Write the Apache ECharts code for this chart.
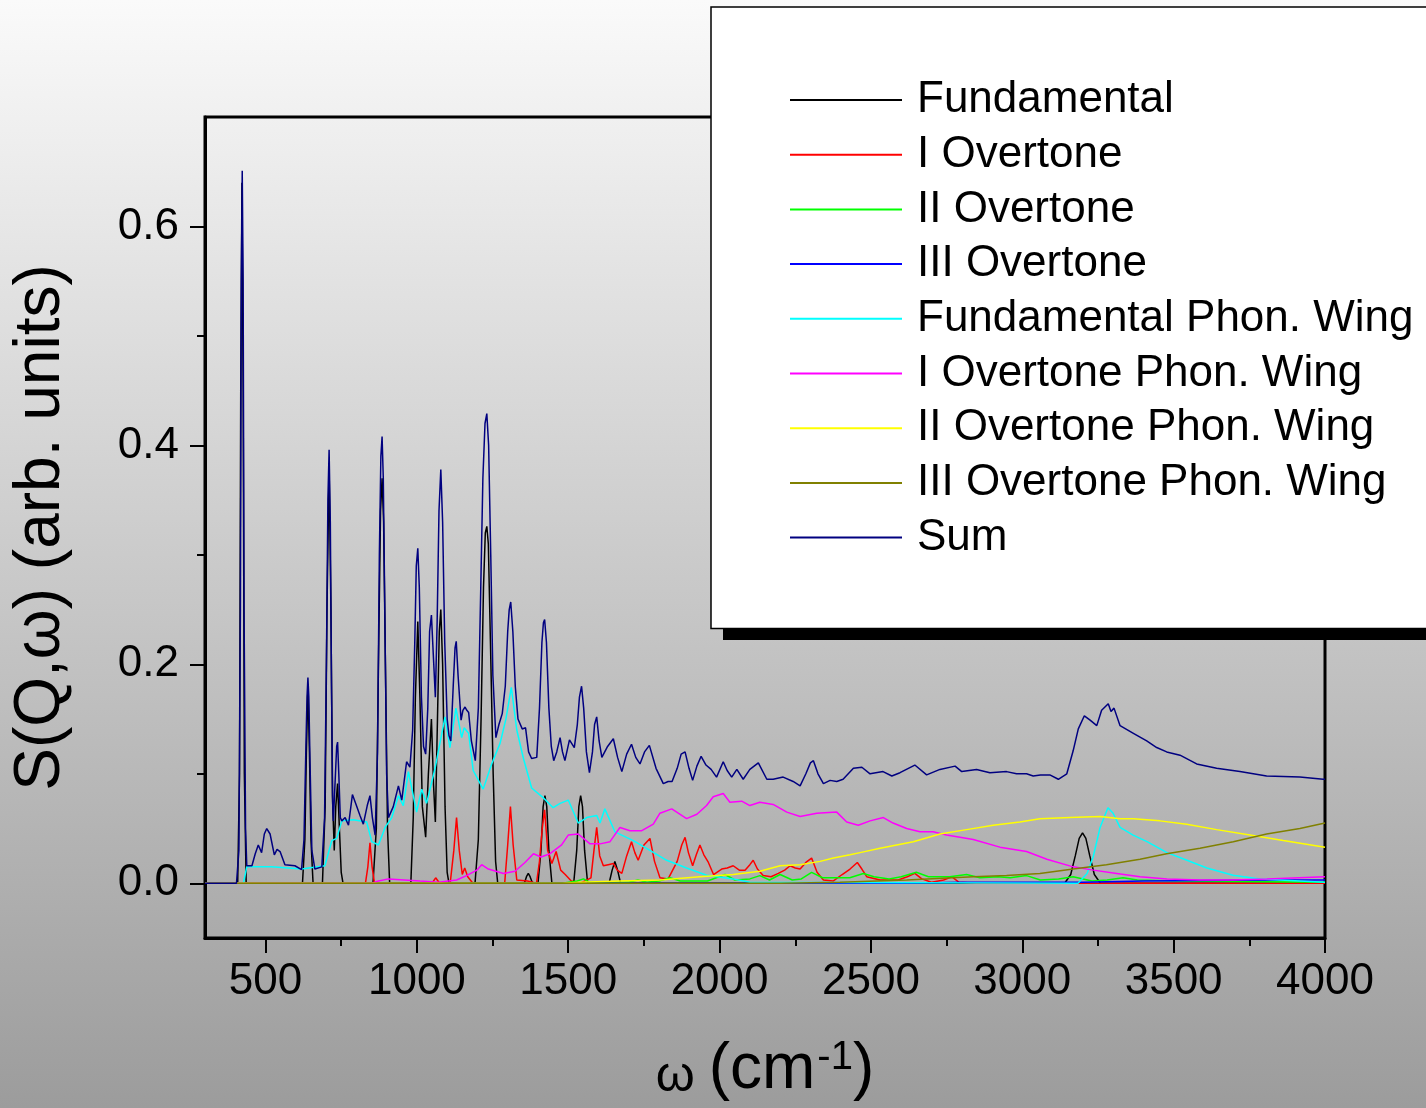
<!DOCTYPE html>
<html>
<head>
<meta charset="utf-8">
<script src="https://cdn.jsdelivr.net/npm/echarts@6/dist/echarts.min.js"></script>
<style>
  html, body { margin: 0; padding: 0; }
  #chart { width: 1426px; height: 1108px; }
</style>
</head>
<body>
<div id="chart"></div>
<script>
'use strict';

// wavenumber (cm-1), S(Q,w) pairs
const fundamental = [
  [300, 0], [408, 0], [414, 0.1], [418, 0.45], [422, 0.64], [426, 0.45], [430, 0.1], [436, 0],
  [622, 0], [630, 0.04], [635, 0.12], [640, 0.18], [645, 0.12], [650, 0.04], [657, 0],
  [688, 0], [697, 0.07], [703, 0.25], [710, 0.38], [716, 0.25], [721, 0.08], [727, 0.03],
  [732, 0.07], [738, 0.091], [744, 0.05], [750, 0.01], [756, 0],
  [855, 0], [866, 0.05], [874, 0.22], [880, 0.34], [885, 0.37], [890, 0.33], [896, 0.2], [903, 0.05], [910, 0],
  [980, 0], [988, 0.06], [995, 0.17], [1003, 0.239], [1010, 0.17], [1018, 0.07], [1029, 0.042],
  [1038, 0.1], [1048, 0.15], [1055, 0.09], [1061, 0.056], [1068, 0.15], [1074, 0.23], [1079, 0.25],
  [1085, 0.2], [1093, 0.07], [1100, 0.01], [1106, 0],
  [1192, 0], [1203, 0.04], [1212, 0.15], [1220, 0.27], [1226, 0.32], [1231, 0.326], [1236, 0.31],
  [1243, 0.22], [1252, 0.1], [1260, 0.02], [1267, 0],
  [1355, 0], [1362, 0.006], [1368, 0.009], [1374, 0.006], [1382, 0],
  [1400, 0], [1410, 0.03], [1417, 0.07], [1423, 0.08], [1429, 0.07], [1436, 0.03], [1446, 0],
  [1518, 0], [1528, 0.03], [1535, 0.07], [1541, 0.08], [1547, 0.07], [1554, 0.03], [1564, 0],
  [1635, 0], [1645, 0.012], [1654, 0.02], [1663, 0.012], [1673, 0],
  [3140, 0], [3160, 0.008], [3175, 0.025], [3188, 0.041], [3199, 0.046], [3210, 0.041],
  [3223, 0.025], [3238, 0.008], [3258, 0], [4000, 0]
];

const overtone1 = [
  [300, 0], [830, 0], [838, 0.015], [845, 0.037], [852, 0.015], [860, 0],
  [1050, 0], [1062, 0.005], [1075, 0], [1110, 0], [1122, 0.03], [1131, 0.06], [1140, 0.03],
  [1150, 0.008], [1158, 0.014], [1168, 0.006], [1185, 0],
  [1290, 0], [1300, 0.035], [1309, 0.07], [1318, 0.035], [1330, 0.003], [1365, 0.002], [1395, 0],
  [1405, 0.02], [1414, 0.05], [1422, 0.067], [1432, 0.03], [1446, 0.018], [1460, 0.029],
  [1475, 0.012], [1490, 0.008], [1510, 0.002], [1540, 0],
  [1575, 0.005], [1585, 0.03], [1594, 0.051], [1604, 0.025], [1616, 0.016], [1632, 0.017],
  [1649, 0.018], [1662, 0.012], [1677, 0.009], [1693, 0.025], [1709, 0.038], [1720, 0.028],
  [1731, 0.021], [1750, 0.035], [1770, 0.041], [1785, 0.02], [1803, 0.005], [1830, 0.004],
  [1860, 0.02], [1875, 0.035], [1886, 0.042], [1897, 0.028], [1911, 0.016], [1923, 0.026],
  [1935, 0.035], [1948, 0.026], [1963, 0.019], [1980, 0.008], [2007, 0.013], [2025, 0.014],
  [2045, 0.016], [2065, 0.012], [2084, 0.012], [2100, 0.017], [2111, 0.021], [2125, 0.013],
  [2144, 0.007], [2170, 0.006], [2194, 0.009], [2215, 0.012], [2233, 0.016], [2250, 0.014],
  [2266, 0.013], [2285, 0.019], [2304, 0.023], [2322, 0.01], [2343, 0.003], [2375, 0.002],
  [2405, 0.008], [2431, 0.013], [2455, 0.019], [2470, 0.013], [2486, 0.006], [2530, 0.003],
  [2590, 0.003], [2620, 0.006], [2645, 0.009], [2668, 0.004], [2700, 0.001],
  [2740, 0.003], [2767, 0.006], [2790, 0.001], [2850, 0], [4000, 0]
];

const overtone2 = [
  [300, 0], [1480, 0], [1530, 0.002], [1550, 0.004], [1570, 0.001], [1700, 0.001],
  [1730, 0.003], [1760, 0.001], [1800, 0.002], [1836, 0.005], [1870, 0.002], [1960, 0.002],
  [2018, 0.008], [2050, 0.003], [2100, 0.004], [2133, 0.007], [2165, 0.003], [2200, 0.008],
  [2240, 0.003], [2270, 0.004], [2304, 0.01], [2340, 0.005], [2400, 0.005], [2430, 0.005],
  [2475, 0.009], [2510, 0.006], [2560, 0.004], [2600, 0.006], [2650, 0.01], [2690, 0.006],
  [2760, 0.006], [2816, 0.008], [2860, 0.005], [2920, 0.006], [2960, 0.005], [3014, 0.007],
  [3060, 0.003], [3120, 0.004], [3168, 0.006], [3230, 0.002], [3280, 0.003], [3333, 0.005],
  [3380, 0.003], [3500, 0.002], [4000, 0.001]
];

const overtone3 = [
  [300, 0], [2600, 0], [2800, 0.001], [3200, 0.001], [3400, 0.002], [3800, 0.003], [4000, 0.003]
];

const fundWing = [
  [300, 0], [427, 0], [438, 0.015], [520, 0.015], [619, 0.013], [696, 0.016], [719, 0.039],
  [735, 0.041], [752, 0.057], [790, 0.058], [834, 0.056], [851, 0.038], [873, 0.035],
  [895, 0.051], [917, 0.06], [939, 0.08], [955, 0.071], [972, 0.102], [999, 0.065],
  [1016, 0.086], [1032, 0.073], [1060, 0.105], [1093, 0.152], [1109, 0.124], [1129, 0.16],
  [1148, 0.133], [1156, 0.142], [1171, 0.137], [1186, 0.103], [1219, 0.086], [1247, 0.109],
  [1275, 0.128], [1294, 0.15], [1312, 0.179], [1330, 0.14], [1352, 0.114], [1379, 0.087],
  [1418, 0.078], [1450, 0.069], [1473, 0.073], [1500, 0.076], [1533, 0.055], [1561, 0.06],
  [1594, 0.062], [1605, 0.055], [1621, 0.068], [1654, 0.047], [1715, 0.039], [1770, 0.03],
  [1825, 0.021], [1891, 0.014], [1957, 0.0073], [2044, 0.004], [2100, 0.001], [3184, 0],
  [3214, 0.009], [3234, 0.024], [3257, 0.051], [3283, 0.069], [3300, 0.064], [3323, 0.051],
  [3366, 0.044], [3412, 0.038], [3478, 0.028], [3544, 0.021], [3610, 0.014], [3696, 0.0073],
  [3785, 0.004], [4000, 0.001]
];

const overtone1Wing = [
  [300, 0], [851, 0], [873, 0.002], [906, 0.004], [1010, 0.002], [1071, 0.001], [1131, 0.003],
  [1164, 0.007], [1198, 0.012], [1214, 0.017], [1236, 0.013], [1286, 0.009], [1324, 0.011],
  [1357, 0.019], [1385, 0.027], [1410, 0.024], [1440, 0.027], [1478, 0.035], [1500, 0.044],
  [1533, 0.045], [1572, 0.036], [1605, 0.036], [1638, 0.038], [1671, 0.051], [1704, 0.048],
  [1743, 0.048], [1781, 0.054], [1803, 0.064], [1842, 0.068], [1891, 0.059], [1925, 0.063],
  [1957, 0.071], [1979, 0.079], [2012, 0.082], [2034, 0.074], [2073, 0.075], [2100, 0.071],
  [2133, 0.074], [2177, 0.072], [2222, 0.065], [2266, 0.061], [2321, 0.064], [2387, 0.065],
  [2420, 0.056], [2458, 0.053], [2497, 0.057], [2541, 0.06], [2573, 0.055], [2618, 0.05],
  [2662, 0.047], [2705, 0.047], [2750, 0.044], [2794, 0.042], [2838, 0.04], [2926, 0.033],
  [3014, 0.029], [3081, 0.022], [3168, 0.015], [3235, 0.012], [3312, 0.009], [3389, 0.006],
  [3478, 0.004], [3587, 0.003], [3696, 0.003], [3808, 0.004], [4000, 0.006]
];

const overtone2Wing = [
  [300, 0], [1480, 0], [1539, 0.001], [1671, 0.002], [1803, 0.003], [1935, 0.006],
  [2045, 0.008], [2133, 0.011], [2200, 0.016], [2266, 0.017], [2332, 0.02], [2376, 0.023],
  [2431, 0.026], [2464, 0.028], [2530, 0.032], [2640, 0.038], [2728, 0.045], [2816, 0.049],
  [2904, 0.053], [2992, 0.056], [3058, 0.059], [3157, 0.06], [3257, 0.061], [3323, 0.059],
  [3367, 0.059], [3455, 0.057], [3543, 0.054], [3642, 0.049], [3752, 0.044], [3862, 0.039],
  [4000, 0.033]
];

const overtone3Wing = [
  [300, 0], [2200, 0], [2398, 0.001], [2618, 0.003], [2838, 0.006], [2948, 0.007],
  [3058, 0.009], [3168, 0.013], [3278, 0.017], [3389, 0.022], [3477, 0.027], [3587, 0.032],
  [3697, 0.038], [3807, 0.045], [3917, 0.05], [4000, 0.055]
];

const sum = [
  [300, 0], [404, 0], [412, 0.03], [417, 0.25], [420, 0.55], [423, 0.651], [426, 0.55],
  [429, 0.25], [434, 0.05], [438, 0.016], [455, 0.016], [466, 0.027], [476, 0.035],
  [487, 0.028], [496, 0.045], [504, 0.05], [515, 0.045], [529, 0.026], [538, 0.031],
  [548, 0.029], [564, 0.017], [597, 0.016], [619, 0.0125], [627, 0.04], [633, 0.12],
  [637, 0.17], [640, 0.188], [643, 0.17], [647, 0.11], [653, 0.03], [663, 0.013], [686, 0.015],
  [695, 0.06], [701, 0.2], [706, 0.35], [710, 0.396], [714, 0.33], [718, 0.18], [722, 0.07],
  [724, 0.057], [731, 0.1], [735, 0.125], [738, 0.129], [742, 0.1], [747, 0.06], [752, 0.057],
  [763, 0.06], [774, 0.053], [787, 0.081], [799, 0.072], [812, 0.062], [823, 0.054],
  [836, 0.071], [845, 0.08], [853, 0.06], [862, 0.044], [870, 0.12], [876, 0.3], [881, 0.39],
  [885, 0.408], [889, 0.37], [894, 0.25], [900, 0.1], [906, 0.06], [922, 0.07], [939, 0.089],
  [950, 0.076], [966, 0.111], [977, 0.106], [986, 0.14], [993, 0.22], [998, 0.29], [1003, 0.306],
  [1008, 0.27], [1015, 0.17], [1022, 0.125], [1029, 0.118], [1036, 0.16], [1042, 0.23],
  [1048, 0.245], [1054, 0.21], [1061, 0.17], [1067, 0.24], [1073, 0.34], [1079, 0.378],
  [1085, 0.33], [1092, 0.22], [1100, 0.15], [1106, 0.135], [1112, 0.13], [1120, 0.18],
  [1126, 0.215], [1130, 0.221], [1136, 0.19], [1146, 0.149], [1152, 0.158], [1159, 0.161],
  [1165, 0.158], [1171, 0.156], [1180, 0.13], [1193, 0.112], [1203, 0.16], [1211, 0.27],
  [1218, 0.37], [1225, 0.42], [1231, 0.429], [1237, 0.4], [1244, 0.3], [1251, 0.19],
  [1261, 0.133], [1271, 0.145], [1282, 0.155], [1292, 0.18], [1300, 0.23], [1305, 0.25],
  [1310, 0.257], [1317, 0.23], [1325, 0.18], [1334, 0.15], [1348, 0.141], [1359, 0.142],
  [1369, 0.12], [1379, 0.114], [1396, 0.115], [1405, 0.16], [1413, 0.22], [1418, 0.238],
  [1422, 0.241], [1428, 0.22], [1436, 0.16], [1444, 0.125], [1452, 0.112], [1462, 0.12],
  [1473, 0.133], [1481, 0.12], [1489, 0.112], [1504, 0.131], [1520, 0.124], [1530, 0.145],
  [1537, 0.17], [1544, 0.18], [1551, 0.16], [1560, 0.12], [1570, 0.101], [1580, 0.12],
  [1587, 0.145], [1594, 0.152], [1602, 0.13], [1611, 0.115], [1630, 0.125], [1649, 0.132],
  [1663, 0.115], [1677, 0.102], [1693, 0.118], [1709, 0.127], [1723, 0.115], [1737, 0.109],
  [1752, 0.12], [1768, 0.126], [1790, 0.105], [1814, 0.091], [1830, 0.093], [1843, 0.093],
  [1860, 0.105], [1873, 0.118], [1886, 0.12], [1899, 0.105], [1911, 0.094], [1925, 0.107],
  [1939, 0.116], [1955, 0.108], [1972, 0.104], [1990, 0.097], [2012, 0.111], [2025, 0.103],
  [2040, 0.097], [2057, 0.104], [2078, 0.095], [2100, 0.104], [2128, 0.11], [2156, 0.095],
  [2177, 0.095], [2210, 0.097], [2243, 0.093], [2266, 0.089], [2285, 0.1], [2300, 0.11],
  [2310, 0.112], [2325, 0.1], [2343, 0.091], [2365, 0.094], [2387, 0.093], [2408, 0.095],
  [2442, 0.105], [2470, 0.106], [2497, 0.1], [2540, 0.102], [2569, 0.098], [2596, 0.101],
  [2645, 0.108], [2684, 0.099], [2728, 0.104], [2778, 0.107], [2800, 0.102], [2849, 0.104],
  [2893, 0.101], [2948, 0.102], [2981, 0.1], [3014, 0.1], [3036, 0.098], [3060, 0.099],
  [3091, 0.099], [3119, 0.095], [3147, 0.1], [3168, 0.121], [3185, 0.141], [3205, 0.153],
  [3224, 0.149], [3246, 0.144], [3262, 0.158], [3273, 0.161], [3284, 0.164], [3293, 0.157],
  [3303, 0.16], [3323, 0.144], [3367, 0.137], [3411, 0.13], [3444, 0.124], [3477, 0.12],
  [3521, 0.117], [3576, 0.109], [3642, 0.105], [3719, 0.102], [3807, 0.098], [3917, 0.097],
  [3994, 0.095], [4000, 0.095]
];

const seriesNames = [
  'Fundamental', 'I Overtone', 'II Overtone', 'III Overtone', 'Fundamental Phon. Wing',
  'I Overtone Phon. Wing', 'II Overtone Phon. Wing', 'III Overtone Phon. Wing', 'Sum'
];
const seriesData = [
  fundamental, overtone1, overtone2, overtone3, fundWing,
  overtone1Wing, overtone2Wing, overtone3Wing, sum
];
const seriesColors = [
  '#000000', '#ff0000', '#00ff00', '#0000ff', '#00ffff',
  '#ff00ff', '#ffff00', '#808000', '#000080'
];

const xMajorTicks = [500, 1000, 1500, 2000, 2500, 3000, 3500, 4000];
const xMinorTicks = [750, 1250, 1750, 2250, 2750, 3250, 3750];
const yMajorTicks = [0, 0.2, 0.4, 0.6];
const yMinorTicks = [0.1, 0.3, 0.5];

const FONT = '"Liberation Sans", Arial, sans-serif';

const chart = echarts.init(document.getElementById('chart'));

const minorAxis = (pos, ticks, min, max) => ({
  type: 'value',
  min,
  max,
  position: pos,
  axisLine: { show: false, onZero: false },
  axisTick: { show: true, customValues: ticks, length: 8, lineStyle: { color: '#000', width: 2 } },
  axisLabel: { show: false },
  splitLine: { show: false }
});

chart.setOption({
  animation: false,
  backgroundColor: new echarts.graphic.LinearGradient(0, 0, 0, 1, [
    { offset: 0, color: '#fafafa' },
    { offset: 1, color: '#9c9c9c' }
  ]),
  grid: {
    left: 205,
    right: 101,
    top: 117,
    bottom: 170,
    show: true,
    borderColor: '#000',
    borderWidth: 3,
    backgroundColor: 'transparent'
  },
  // drop shadow behind the legend box
  graphic: [{
    type: 'rect',
    z: 3,
    shape: { x: 723, y: 20, width: 800, height: 620 },
    style: { fill: '#000' }
  }],
  legend: {
    data: seriesNames,
    orient: 'vertical',
    left: 711,
    top: 7,
    z: 5,
    padding: [68, 40, 66, 79],
    icon: 'rect',
    itemWidth: 112,
    itemHeight: 2,
    itemGap: 4.7,
    backgroundColor: '#fff',
    borderColor: '#000',
    borderWidth: 1.5,
    textStyle: {
      fontFamily: FONT,
      fontSize: 44,
      lineHeight: 50,
      color: '#000',
      padding: [0, 0, 0, 10]
    }
  },
  xAxis: [
    {
      type: 'value',
      min: 300,
      max: 4000,
      name: '{w|ω }{t|(cm}{s|-1}{t|)}',
      nameLocation: 'middle',
      nameGap: 100,
      nameTextStyle: {
        rich: {
          w: { fontFamily: FONT, fontSize: 50, color: '#000', verticalAlign: 'bottom' },
          t: { fontFamily: FONT, fontSize: 64, color: '#000', verticalAlign: 'bottom' },
          s: { fontFamily: FONT, fontSize: 40, color: '#000', verticalAlign: 'top', padding: [0, 0, 0, 2] }
        }
      },
      axisLine: { show: true, onZero: false, lineStyle: { color: '#000', width: 3 } },
      axisTick: { show: true, customValues: xMajorTicks, length: 15, lineStyle: { color: '#000', width: 2 } },
      axisLabel: {
        customValues: xMajorTicks,
        margin: 22,
        fontFamily: FONT,
        fontSize: 44,
        color: '#000',
        formatter: (v) => String(v)
      },
      splitLine: { show: false }
    },
    minorAxis('bottom', xMinorTicks, 300, 4000)
  ],
  yAxis: [
    {
      type: 'value',
      min: -0.05,
      max: 0.7,
      name: 'S(Q,ω) (arb. units)',
      nameLocation: 'middle',
      nameGap: 132,
      nameTextStyle: { fontFamily: FONT, fontSize: 64, color: '#000' },
      axisLine: { show: true, onZero: false, lineStyle: { color: '#000', width: 3 } },
      axisTick: { show: true, customValues: yMajorTicks, length: 15, lineStyle: { color: '#000', width: 2 } },
      axisLabel: {
        customValues: yMajorTicks,
        margin: 26,
        fontFamily: FONT,
        fontSize: 44,
        color: '#000',
        formatter: (v) => v.toFixed(1)
      },
      splitLine: { show: false }
    },
    minorAxis('left', yMinorTicks, -0.05, 0.7)
  ],
  series: seriesNames.map((name, i) => ({
    name,
    type: 'line',
    data: seriesData[i],
    xAxisIndex: 0,
    yAxisIndex: 0,
    showSymbol: false,
    symbol: 'none',
    color: seriesColors[i],
    lineStyle: { color: seriesColors[i], width: 1.5 }
  }))
});
</script>
</body>
</html>
